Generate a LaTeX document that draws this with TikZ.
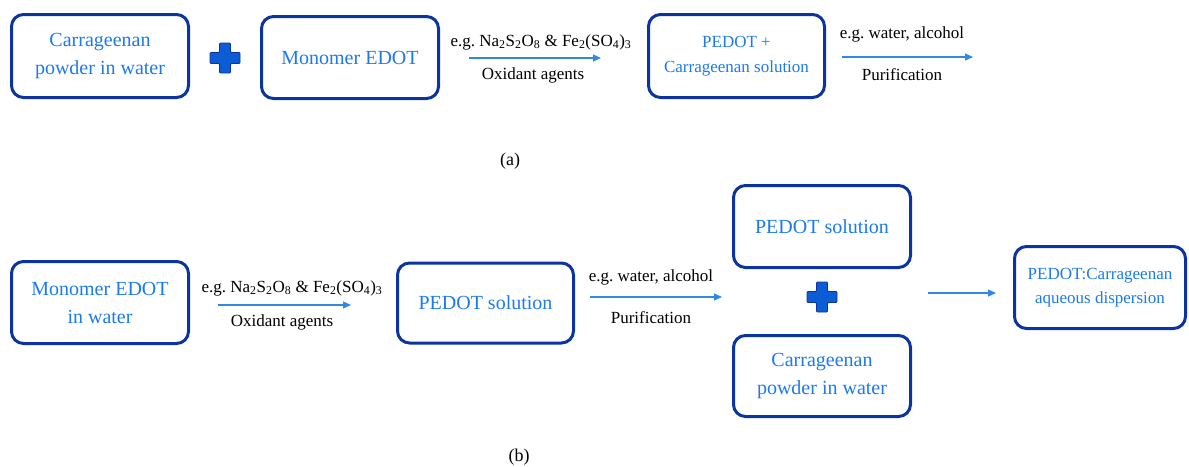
\documentclass[tikz,border=0pt]{standalone}
\usepackage{fontspec}
\setmainfont{Liberation Serif}
\usetikzlibrary{arrows.meta,calc}
\frenchspacing
\definecolor{boxblue}{RGB}{12,52,160}
\definecolor{txtblue}{RGB}{28,122,235}
\definecolor{arrblue}{RGB}{45,138,232}
\definecolor{plusblue}{RGB}{12,92,212}
\tikzset{
  box/.style={draw=boxblue, line width=3pt, rounded corners=12pt, text=txtblue,
    align=center, inner sep=0pt, font=\fontsize{20}{28}\selectfont},
  smalltxt/.style={font=\fontsize{17}{24.5}\selectfont},
  lbl/.style={inner sep=0pt, text=black, font=\fontsize{17}{20}\selectfont},
  arr/.style={draw=arrblue, line width=1.2pt, -{Triangle[length=8pt,width=7pt]}},
  plussign/.pic={
    \filldraw[fill=plusblue, draw=boxblue, line width=0.8pt, rounded corners=1pt]
      (-5.5,-15) -- (5.5,-15) -- (5.5,-5.5) -- (15,-5.5) -- (15,5.5) -- (5.5,5.5)
      -- (5.5,15) -- (-5.5,15) -- (-5.5,5.5) -- (-15,5.5) -- (-15,-5.5) -- (-5.5,-5.5) -- cycle;
  }
}
\begin{document}
\begin{tikzpicture}[x=1pt,y=-1pt]
\useasboundingbox (0,0) rectangle (1189,466);
% ---------- (a) ----------
\node[box, minimum width=177pt, minimum height=83pt] (a1) at (100,56) {Carrageenan\\powder in water};
\pic at (225,58) {plussign};
\node[box, minimum width=177pt, minimum height=82pt] (a2) at (350,57.5) {Monomer EDOT};
\node[box, smalltxt, minimum width=176pt, minimum height=83pt] (a3) at (736.5,56) {PEDOT +\\Carrageenan solution};
\coordinate (a4) at (1000,57);
\draw[arr] ($(a2.east)+(29,0.5)$) -- ($(a3.west)+(-46,2)$);
\draw[arr] ($(a3.east)+(16,1)$) -- ($(a4)+(-27,0)$);
\node[lbl] (la1) at (541,42) {e.g. Na\textsubscript{2}S\textsubscript{2}O\textsubscript{8} \& Fe\textsubscript{2}(SO\textsubscript{4})\textsubscript{3}};
\node[lbl] (la2) at (533,75) {Oxidant agents};
\node[lbl] (la3) at (902,34) {e.g. water, alcohol};
\node[lbl] (la4) at (902,75) {Purification};
\node[lbl, font=\fontsize{18}{20}\selectfont] (capa) at (510,161) {(a)};
% ---------- (b) ----------
\node[box, minimum width=177pt, minimum height=82pt] (b1) at (100,302.5) {Monomer EDOT\\in water};
\node[box, minimum width=176pt, minimum height=80pt] (b2) at (485.5,303) {PEDOT solution};
\node[box, minimum width=177pt, minimum height=82pt] (b3) at (822,226.5) {PEDOT solution};
\pic at (822,297) {plussign};
\node[box, minimum width=177pt, minimum height=81pt] (b4) at (822,376) {Carrageenan\\powder in water};
\node[box, smalltxt, minimum width=171pt, minimum height=82pt] (b5) at (1100,287.5) {PEDOT:Carrageenan\\aqueous dispersion};
\draw[arr] ($(b1.east)+(28,2.5)$) -- ($(b2.west)+(-45,2)$);
\draw[arr] ($(b2.east)+(15,-6)$) -- ($(b3.west)+(-10,70.5)$);
\draw[arr] ($(b3.east)+(16,66.5)$) -- ($(b5.west)+(-17,5.5)$);
\node[lbl] (lb1) at (292,288) {e.g. Na\textsubscript{2}S\textsubscript{2}O\textsubscript{8} \& Fe\textsubscript{2}(SO\textsubscript{4})\textsubscript{3}};
\node[lbl] (lb2) at (282,322) {Oxidant agents};
\node[lbl] (lb3) at (651,277) {e.g. water, alcohol};
\node[lbl] (lb4) at (651,318) {Purification};
\node[lbl, font=\fontsize{18}{20}\selectfont] (capb) at (519,457) {(b)};
\end{tikzpicture}
\end{document}
